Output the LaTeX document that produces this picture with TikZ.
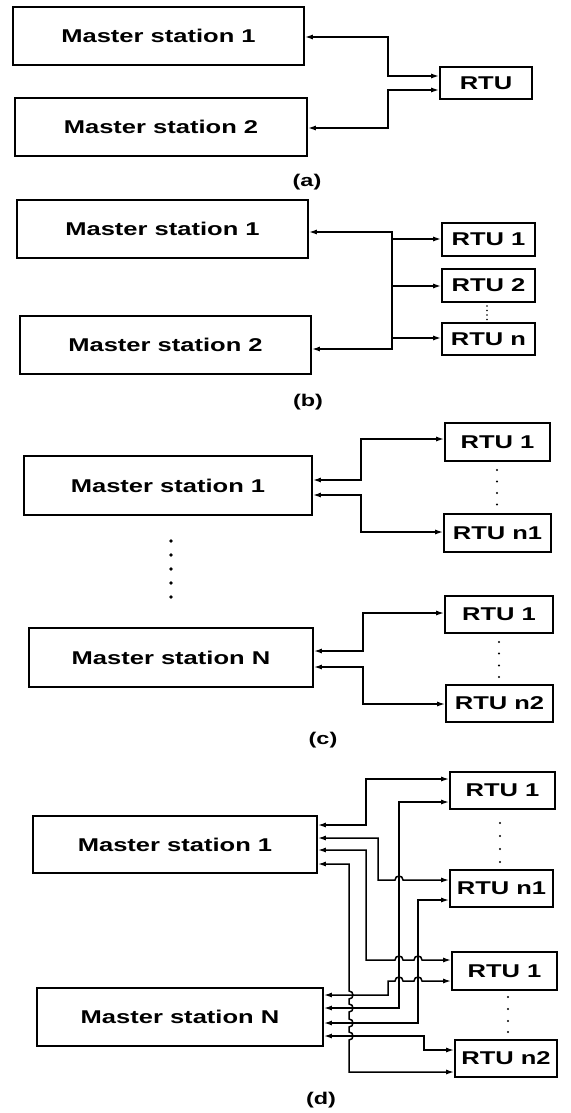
\documentclass[tikz,border=0pt]{standalone}
\usepackage{fontspec}
\newfontfamily\lblfont{Liberation Sans}[FakeStretch=1.38]
\usetikzlibrary{arrows.meta}
\begin{document}
\begin{tikzpicture}[x=1pt,y=-1pt,
  box/.style={draw=black, line width=1.7pt, inner sep=0pt,
    font=\lblfont\bfseries\fontsize{18.5}{20}\selectfont},
  wire/.style={line width=1.5pt},
  bi/.style={wire, {Latex[length=8pt,width=5pt]}-{Latex[length=8pt,width=5pt]}},
  fwd/.style={wire, -{Latex[length=8pt,width=5pt]}},
  lab/.style={inner sep=0pt, font=\lblfont\bfseries\fontsize{17}{19}\selectfont},
  dotc/.style={fill=black}
]
\fill[white] (0,0) rectangle (570,1113);
\useasboundingbox (0,0) rectangle (570,1113);

% ---------------- (a)
\node[box, minimum width=291pt, minimum height=58pt] (ma1) at (158.5,36) {Master station 1};
\node[box, minimum width=292pt, minimum height=58pt] (ma2) at (161,127) {Master station 2};
\node[box, minimum width=92pt, minimum height=32pt] (ra) at (486,83) {RTU};
\draw[bi] (ma1.east |- 0,37) -- (388,37) -- (388,76) -- (ra.west |- 0,76);
\draw[bi] (ma2.east |- 0,128) -- (388,128) -- (388,90) -- (ra.west |- 0,90);
\node[lab] (la) at (307,182) {(a)};

% ---------------- (b)
\node[box, minimum width=291pt, minimum height=58pt] (mb1) at (162.5,229) {Master station 1};
\node[box, minimum width=291pt, minimum height=58pt] (mb2) at (165.5,345) {Master station 2};
\node[box, minimum width=93pt, minimum height=33pt] (rb1) at (488.5,239.5) {RTU 1};
\node[box, minimum width=93pt, minimum height=33pt] (rb2) at (488.5,285.5) {RTU 2};
\node[box, minimum width=93pt, minimum height=32pt] (rbn) at (488.5,339) {RTU n};
\draw[bi] (mb1.east |- 0,232) -- (392,232) -- (392,349) -- (mb2.east |- 0,349);
\coordinate (bus1) at (392,239);
\coordinate (bus2) at (392,286);
\coordinate (bus3) at (392,338);
\draw[fwd] (bus1) -- (rb1.west |- bus1);
\draw[fwd] (bus2) -- (rb2.west |- bus2);
\draw[fwd] (bus3) -- (rbn.west |- bus3);
\foreach \yy in {306,310.5,315,319.5} \fill[dotc] (487,\yy) circle[radius=0.9pt];
\node[lab] (lb) at (308,402) {(b)};

% ---------------- (c)
\node[box, minimum width=288pt, minimum height=59pt] (mc1) at (168,485.5) {Master station 1};
\node[box, minimum width=284pt, minimum height=59pt] (mcN) at (171,657.5) {Master station N};
\node[box, minimum width=105pt, minimum height=38pt] (rc1) at (497.5,442) {RTU 1};
\node[box, minimum width=107pt, minimum height=38pt] (rcn1) at (497.5,533) {RTU n1};
\node[box, minimum width=108pt, minimum height=37pt] (rc1b) at (499,614.5) {RTU 1};
\node[box, minimum width=107pt, minimum height=37pt] (rcn2) at (499.5,703.5) {RTU n2};
\draw[bi] (mc1.east |- 0,480) -- (361,480) -- (361,439) -- (rc1.west |- 0,439);
\draw[bi] (mc1.east |- 0,495) -- (361,495) -- (361,532) -- (rcn1.west |- 0,532);
\draw[bi] (mcN.east |- 0,651) -- (363,651) -- (363,613) -- (rc1b.west |- 0,613);
\draw[bi] (mcN.east |- 0,667) -- (363,667) -- (363,704) -- (rcn2.west |- 0,704);
\foreach \yy in {470,481.5,493,504.5} \fill[dotc] (497,\yy) circle[radius=1.1pt];
\foreach \yy in {642,653.5,665.5,677} \fill[dotc] (499,\yy) circle[radius=1.1pt];
\foreach \yy in {541,555,569,583,597} \fill[dotc] (171,\yy) circle[radius=1.8pt];
\node[lab] (lc) at (323,740) {(c)};

% ---------------- (d)
\node[box, minimum width=284pt, minimum height=57pt] (md1) at (175,844.5) {Master station 1};
\node[box, minimum width=286pt, minimum height=58pt] (mdN) at (180,1017) {Master station N};
\node[box, minimum width=105pt, minimum height=37pt] (rd1) at (502.5,790.5) {RTU 1};
\node[box, minimum width=103pt, minimum height=37pt] (rdn1) at (501.5,888.5) {RTU n1};
\node[box, minimum width=105pt, minimum height=38pt] (rd1b) at (504.5,971) {RTU 1};
\node[box, minimum width=102pt, minimum height=37pt] (rdn2) at (506,1058.5) {RTU n2};
% from Master station 1
\draw[bi] (md1.east |- 0,825) -- (366,825) -- (366,779) -- (rd1.west |- 0,779);
\draw[bi] (md1.east |- 0,838) -- (378,838) -- (378,880) -- (395,880)
   .. controls (395,874.7) and (403,874.7) .. (403,880) -- (rdn1.west |- 0,880);
\draw[bi] (md1.east |- 0,850) -- (366,850) -- (366,960) -- (395,960)
   .. controls (395,954.7) and (403,954.7) .. (403,960) -- (414,960)
   .. controls (414,954.7) and (422,954.7) .. (422,960) -- (rd1b.west |- 0,960);
\draw[bi] (md1.east |- 0,864) -- (349,864) -- (349,991)
   .. controls (354.3,991) and (354.3,999) .. (349,999) -- (349,1004)
   .. controls (354.3,1004) and (354.3,1012) .. (349,1012) -- (349,1019)
   .. controls (354.3,1019) and (354.3,1027) .. (349,1027) -- (349,1032)
   .. controls (354.3,1032) and (354.3,1040) .. (349,1040) -- (349,1072) -- (rdn2.west |- 0,1072);
% from Master station N
\draw[bi] (mdN.east |- 0,995) -- (388,995) -- (388,981) -- (395,981)
   .. controls (395,975.7) and (403,975.7) .. (403,981) -- (414,981)
   .. controls (414,975.7) and (422,975.7) .. (422,981) -- (rd1b.west |- 0,981);
\draw[bi] (mdN.east |- 0,1008) -- (399,1008) -- (399,802) -- (rd1.west |- 0,802);
\draw[bi] (mdN.east |- 0,1023) -- (418,1023) -- (418,900) -- (rdn1.west |- 0,900);
\draw[bi] (mdN.east |- 0,1036) -- (424,1036) -- (424,1050) -- (rdn2.west |- 0,1050);
\foreach \yy in {823,836,849,862} \fill[dotc] (500,\yy) circle[radius=1.1pt];
\foreach \yy in {997,1009,1021,1032} \fill[dotc] (508,\yy) circle[radius=1.1pt];
\node[lab] (ld) at (321,1100) {(d)};
\end{tikzpicture}
\end{document}
